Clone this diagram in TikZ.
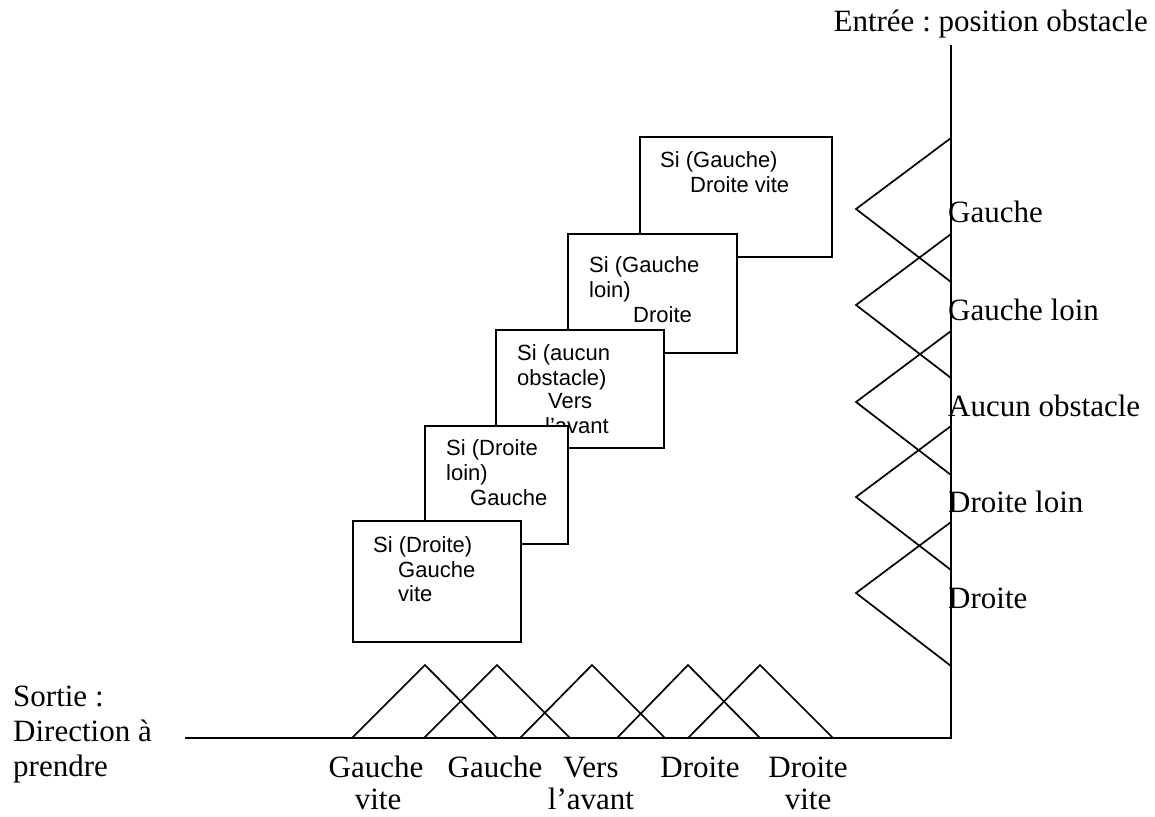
\documentclass[tikz,border=0pt]{standalone}
\usepackage{fontspec}
\setmainfont{Liberation Serif}
\setsansfont{Liberation Sans}
\frenchspacing
\begin{document}
\begin{tikzpicture}[x=1pt,y=-1pt,
  axis/.style={line width=2pt},
  memb/.style={line width=1.7pt},
  rulebox/.style={draw, line width=1.8pt, fill=white, inner sep=0pt},
  lbl/.style={inner sep=0pt, anchor=base west, font=\fontsize{31}{36}\selectfont},
  clbl/.style={inner sep=0pt, anchor=base, font=\fontsize{31}{36}\selectfont},
  rtxt/.style={inner sep=0pt, anchor=base west, font=\sffamily\fontsize{22}{25}\selectfont}]
\useasboundingbox (0,0) rectangle (1155,816);

% axes
\coordinate (xo) at (185,738);
\coordinate (org) at (951,738);
\coordinate (ytop) at (951,45);
\draw[axis] (xo) -- (org) -- (ytop);

% input membership functions (obstacle position)
\foreach \a in {209,305,402,497,593}
  \draw[memb] (951,{\a-71}) -- (856,\a) -- (951,{\a+73});

% output membership functions (direction)
\foreach \l/\p/\r in {352/425/497, 424/497/570, 520/592/665, 617/688/760, 688/760/833}
  \draw[memb] (\l,738) -- (\p,665) -- (\r,738);

% axis titles
\node[lbl, anchor=base east] (tin) at (1148,32) {Entrée : position obstacle};
\node[lbl] (tout1) at (13,706) {Sortie :};
\node[lbl] (tout2) at (13,741) {Direction à};
\node[lbl] (tout3) at (13,776) {prendre};

% input set labels
\node[lbl] (in1) at (948,222) {Gauche};
\node[lbl] (in2) at (948,320) {Gauche loin};
\node[lbl] (in3) at (948,416) {Aucun obstacle};
\node[lbl] (in4) at (948,512) {Droite loin};
\node[lbl] (in5) at (948,608) {Droite};

% output set labels
\node[clbl] (out1a) at (376,777) {Gauche};
\node[clbl] (out1b) at (378,809) {vite};
\node[clbl] (out2a) at (495,777) {Gauche};
\node[clbl] (out3a) at (591,777) {Vers};
\node[clbl] (out3b) at (591,809) {l’avant};
\node[clbl] (out4a) at (700,777) {Droite};
\node[clbl] (out5a) at (808,777) {Droite};
\node[clbl] (out5b) at (808,809) {vite};

% rule boxes, each one laid over the previous
\node[rulebox, minimum width=192pt, minimum height=120pt] (r1) at (736,197) {};
\node[rtxt] (r1a) at (660,167) {Si (Gauche)};
\node[rtxt] (r1b) at (690,192) {Droite vite};

\node[rulebox, minimum width=169pt, minimum height=119pt] (r2) at (652.5,293.5) {};
\node[rtxt] (r2a) at (589,272) {Si (Gauche};
\node[rtxt] (r2b) at (589,297) {loin)};
\node[rtxt] (r2c) at (633,322) {Droite};

\node[rulebox, minimum width=168pt, minimum height=118pt] (r3) at (580,389) {};
\node[rtxt] (r3a) at (517,360) {Si (aucun};
\node[rtxt] (r3b) at (517,385) {obstacle)};
\node[rtxt] (r3c) at (548,408) {Vers};
\node[rtxt] (r3d) at (545,433) {l’avant};

\node[rulebox, minimum width=143pt, minimum height=118pt] (r4) at (496.5,485) {};
\node[rtxt] (r4a) at (446,455) {Si (Droite};
\node[rtxt] (r4b) at (446,480) {loin)};
\node[rtxt] (r4c) at (470,505) {Gauche};

\node[rulebox, minimum width=168pt, minimum height=121pt] (r5) at (437,581.5) {};
\node[rtxt] (r5a) at (373,552) {Si (Droite)};
\node[rtxt] (r5b) at (398,577) {Gauche};
\node[rtxt] (r5c) at (398,601) {vite};
\end{tikzpicture}
\end{document}
